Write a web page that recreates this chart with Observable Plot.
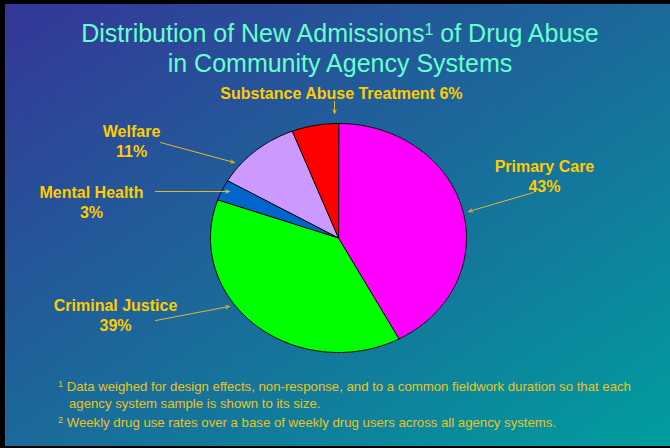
<!DOCTYPE html>
<html><head><meta charset="utf-8">
<script src="https://cdn.jsdelivr.net/npm/d3@7"></script>
<script src="https://cdn.jsdelivr.net/npm/@observablehq/plot@0.6"></script>
<style>
body{margin:0;background:#000;}
#frame{position:relative;width:670px;height:448px;overflow:hidden;background:linear-gradient(to bottom right,#353597,#009e9e);font-family:"Liberation Sans",Arial,sans-serif;}
#title{position:absolute;left:10px;top:18px;width:660px;text-align:center;color:#66ffcc;font-size:25px;line-height:30px;}
#title sup{font-size:16px;vertical-align:7px;line-height:0;}
#chart{position:absolute;left:0;top:0;}
#notes{position:absolute;left:58px;top:379px;color:#eac41e;font-size:13.2px;line-height:16.5px;white-space:nowrap;}
#notes sup{font-size:9px;vertical-align:4px;line-height:0;}
.b{position:absolute;background:#000;}
</style></head><body>
<div id="frame">
 <div id="title">Distribution of New Admissions<sup>1</sup> of Drug Abuse<br>in Community Agency Systems</div>
 <div id="chart"></div>
 <div id="notes"><sup>1</sup> Data weighed for design effects, non-response, and to a common fieldwork duration so that each<br>&nbsp;&nbsp;&nbsp;agency system sample is shown to its size.<div style="height:3px"></div><sup>2</sup> Weekly drug use rates over a base of weekly drug users across all agency systems.</div>
 <div class="b" style="left:0;top:0;width:670px;height:4px"></div>
 <div class="b" style="left:0;top:0;width:5px;height:448px"></div>
 <div class="b" style="left:0;top:446px;width:670px;height:2px"></div>
</div>
<script>
const categories = ["Primary Care","Criminal Justice","Mental Health","Welfare","Substance Abuse Treatment"];
const shares = [43, 39, 3, 11, 6];
const sliceColors = ["#ff00ff","#00ff00","#0066cc","#cc99ff","#ff0000"];
const labelText = ["Primary Care\n43%","Criminal Justice\n39%","Mental Health\n3%","Welfare\n11%","Substance Abuse Treatment 6%"];
// label anchors and leader arrows, in pie-radius units (layout)
const labelX = [1.609, -1.742, -1.930, -1.617, 0.023];
const labelY = [0.546, -0.668, 0.319, 0.852, 1.271];
const arrowX1 = [1.523, -1.430, -1.430, -1.391, -0.031];
const arrowY1 = [0.397, -0.721, 0.406, 0.834, 1.192];
const arrowX2 = [1.016, -0.852, -0.852, -0.8125, -0.031];
const arrowY2 = [0.231, -0.598, 0.406, 0.659, 1.087];

const arcs = d3.pie().sort(null).startAngle(0).endAngle(2 * Math.PI)(shares);
const outline = [];
arcs.forEach((a, i) => {
  outline.push({k: categories[i], x: 0, y: 0});
  const n = Math.max(2, Math.ceil((a.endAngle - a.startAngle) / 0.01));
  for (let j = 0; j <= n; j++) {
    const t = a.startAngle + (a.endAngle - a.startAngle) * j / n;
    outline.push({k: categories[i], x: Math.sin(t), y: Math.cos(t)});
  }
});
const labels = categories.map((c, i) => ({text: labelText[i], x: labelX[i], y: labelY[i]}));
const arrows = categories.map((c, i) => ({x1: arrowX1[i], y1: arrowY1[i], x2: arrowX2[i], y2: arrowY2[i]}));

const chart = Plot.plot({
  width: 670, height: 448, margin: 0,
  x: {domain: [-1, 1], range: [210, 466], axis: null},
  y: {domain: [-1, 1], range: [352, 123], axis: null},
  color: {domain: categories, range: sliceColors},
  style: {background: "transparent", overflow: "visible"},
  marks: [
    Plot.line(outline, {x: "x", y: "y", z: "k", fill: "k", stroke: "#000", strokeWidth: 1, curve: "linear-closed"}),
    Plot.arrow(arrows, {x1: "x1", y1: "y1", x2: "x2", y2: "y2", stroke: "#e2b82a", strokeWidth: 1, headLength: 6, headAngle: 45}),
    Plot.text(labels, {x: "x", y: "y", text: "text", fill: "#ffcc00", fontSize: 16, fontWeight: "bold", lineHeight: 1.25, fontFamily: "Liberation Sans, Arial, sans-serif"})
  ]
});
document.getElementById("chart").appendChild(chart);
</script>
</body></html>
